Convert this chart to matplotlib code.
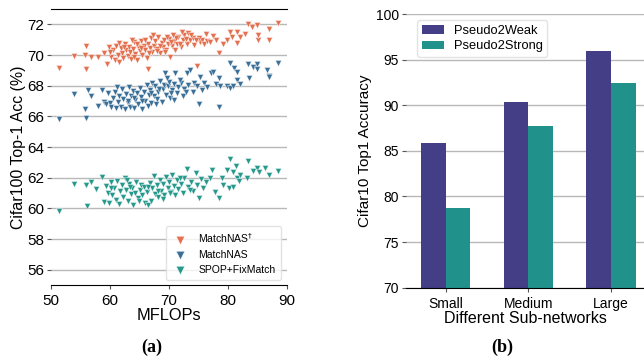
import matplotlib
matplotlib.use("Agg")
import matplotlib.pyplot as plt
import numpy as np

plt.rcParams['font.family'] = ['Liberation Sans', 'DejaVu Sans']

# ---------------- data (a) ----------------
matchnas_dag_x = [51.3, 53.9, 55.8, 55.9, 56.0, 56.8, 57.9, 59.0, 59.5, 59.8, 60.2, 60.5, 60.8, 61.0, 61.3,
                  61.5, 61.8, 62.0, 62.2, 62.5, 62.7, 63.0, 63.2, 63.4, 63.6, 63.9, 64.1, 64.3, 64.5, 64.8,
                  65.0, 65.2, 65.5, 65.7, 66.0, 66.2, 66.4, 66.5, 66.8, 67.0, 67.2, 67.5, 67.7, 68.0, 68.2,
                  68.5, 68.8, 69.0, 69.2, 69.5, 69.8, 70.0, 70.2, 70.5, 70.8, 71.0, 71.3, 71.6, 72.0, 72.3,
                  72.6, 73.0, 73.3, 73.6, 74.0, 74.3, 74.8, 75.2, 75.6, 76.0, 76.5, 77.0, 77.5, 78.0, 78.5,
                  79.1, 79.9, 80.3, 80.6, 81.5, 81.6, 82.0, 82.9, 83.4, 84.0, 84.9, 85.0, 85.1, 86.9, 87.0,
                  88.4, 62.3, 63.8, 64.6, 65.3, 66.6, 67.3, 68.4, 69.3, 69.7, 70.4, 71.1, 71.8, 72.8, 73.8,
                  75.0, 76.2, 60.0, 61.6, 64.0, 65.9, 67.9, 70.6, 72.2, 74.5]
matchnas_dag_y = [69.15, 69.95, 70.0, 70.6, 69.1, 69.9, 69.9, 70.1, 69.4, 70.55, 69.85, 70.3, 69.7, 70.6, 70.0,
                  69.55, 70.45, 70.15, 69.8, 70.7, 70.35, 69.95, 70.55, 70.2, 69.75, 70.4, 70.85, 70.05, 69.65, 70.5,
                  70.25, 70.9, 70.0, 70.6, 70.35, 69.8, 69.1, 70.75, 70.45, 71.1, 70.2, 70.6, 70.9, 70.4, 71.15,
                  70.15, 70.8, 70.55, 71.0, 70.35, 70.7, 71.05, 69.85, 70.6, 70.9, 70.3, 70.75, 71.2, 70.5, 70.95,
                  71.3, 70.7, 71.45, 70.95, 71.1, 70.65, 69.3, 70.85, 71.0, 70.75, 70.9, 70.85, 71.25, 71.0, 70.1,
                  70.75, 71.0, 71.5, 71.2, 71.5, 70.8, 71.2, 71.4, 72.0, 71.8, 71.95, 71.0, 71.3, 71.7, 71.0,
                  72.1, 70.5, 70.95, 70.7, 70.45, 70.1, 71.3, 70.6, 70.2, 71.2, 70.85, 71.1, 70.7, 71.05, 71.3,
                  71.1, 71.4, 70.2, 70.8, 69.9, 71.0, 70.25, 71.3, 71.5, 71.0]

matchnas_x = [51.3, 53.9, 55.8, 56.0, 56.2, 56.8, 57.9, 58.6, 59.0, 59.3, 59.6, 60.0, 60.2, 60.5, 60.8,
              61.0, 61.3, 61.5, 61.8, 62.0, 62.2, 62.5, 62.7, 63.0, 63.2, 63.4, 63.6, 63.9, 64.1, 64.3,
              64.5, 64.8, 65.0, 65.2, 65.5, 65.7, 66.0, 66.2, 66.4, 66.6, 66.8, 67.0, 67.2, 67.5, 67.7,
              68.0, 68.2, 68.5, 68.8, 69.0, 69.2, 69.3, 69.5, 69.8, 70.0, 70.2, 70.5, 70.8, 71.0, 71.3,
              71.6, 72.0, 72.3, 72.6, 73.0, 73.3, 73.6, 74.0, 74.3, 74.8, 75.0, 75.2, 75.6, 76.0, 76.5,
              77.1, 77.5, 78.0, 78.4, 78.5, 78.6, 79.8, 80.3, 80.4, 80.9, 81.0, 81.5, 81.5, 82.1, 83.4,
              83.6, 84.3, 84.9, 84.9, 86.6, 87.0, 87.0, 88.4, 64.0, 65.4, 66.9, 68.3, 69.6, 70.4, 71.8,
              72.9, 61.2, 63.0, 67.8, 70.9]
matchnas_y = [65.85, 67.45, 66.5, 65.9, 67.75, 67.3, 66.7, 67.75, 66.95, 66.8, 67.5, 66.9, 66.6, 67.2, 67.6,
              66.55, 66.95, 67.35, 66.6, 67.8, 67.1, 66.5, 67.45, 66.85, 67.9, 66.6, 67.3, 67.65, 66.55, 67.05,
              67.5, 66.8, 67.85, 67.25, 66.5, 67.6, 67.0, 68.05, 66.65, 67.4, 67.75, 66.9, 68.2, 67.3, 67.95,
              67.1, 67.6, 68.3, 66.95, 67.8, 68.05, 68.8, 67.4, 67.95, 68.25, 67.2, 67.7, 68.1, 68.8, 67.5,
              67.9, 68.2, 67.35, 67.8, 68.8, 68.05, 69.0, 67.6, 68.15, 67.95, 66.8, 68.55, 67.7, 68.2, 67.9,
              68.8, 68.9, 68.1, 68.5, 66.6, 68.0, 68.0, 69.5, 67.85, 68.0, 69.15, 68.9, 68.4, 68.1, 69.4,
              68.5, 69.25, 69.4, 69.1, 69.0, 68.65, 68.55, 69.5, 67.2, 67.0, 67.55, 67.8, 68.5, 67.55, 68.4,
              67.6, 67.9, 67.0, 66.8, 67.05]

spop_x = [51.3, 53.9, 55.9, 56.1, 56.7, 57.7, 58.6, 59.0, 59.3, 59.6, 59.9, 60.1, 60.4, 60.7, 61.0,
          61.2, 61.5, 61.7, 62.0, 62.2, 62.5, 62.7, 63.0, 63.2, 63.5, 63.7, 63.9, 64.2, 64.4, 64.7,
          65.0, 65.2, 65.5, 65.8, 66.0, 66.2, 66.5, 66.7, 66.9, 67.2, 67.4, 67.6, 67.9, 68.1, 68.4,
          68.7, 69.0, 69.2, 69.5, 69.8, 70.0, 70.3, 70.5, 70.8, 71.0, 71.3, 71.6, 72.0, 72.3, 72.6,
          73.0, 73.3, 73.7, 74.1, 74.5, 74.8, 75.0, 75.4, 75.8, 76.3, 77.0, 77.2, 77.8, 78.4, 78.9,
          79.2, 79.8, 80.2, 80.3, 80.9, 80.9, 81.3, 81.5, 81.9, 82.0, 83.3, 83.4, 84.3, 84.9, 85.3,
          86.3, 87.0, 88.5, 60.2, 62.9, 64.9, 66.4, 68.2, 70.1, 71.9, 73.5, 63.4, 68.9]
spop_y = [59.8, 61.6, 61.55, 60.15, 61.7, 61.25, 62.05, 60.4, 61.45, 61.0, 60.35, 61.7, 60.9, 61.3, 60.55,
          61.8, 60.3, 61.1, 61.5, 60.75, 61.95, 61.2, 60.5, 61.6, 60.95, 61.35, 60.25, 61.0, 61.75, 60.7,
          61.2, 61.55, 60.85, 61.4, 60.35, 61.05, 60.2, 61.65, 60.5, 61.3, 62.1, 60.95, 61.5, 60.75, 61.85,
          61.15, 61.6, 60.9, 62.05, 61.3, 61.7, 61.05, 62.15, 61.45, 60.85, 61.85, 61.25, 61.6, 61.0, 62.0,
          62.55, 61.4, 61.75, 61.15, 62.3, 61.55, 60.7, 61.9, 61.35, 61.7, 62.0, 62.5, 61.05, 60.7, 62.0,
          61.5, 62.5, 61.3, 63.2, 61.4, 62.4, 62.75, 61.95, 61.8, 62.2, 61.95, 63.1, 62.45, 62.65, 62.4,
          62.6, 62.15, 62.45, 61.3, 61.85, 60.5, 61.4, 61.15, 61.0, 61.95, 61.2, 61.4, 60.6]

series_labels = ["MatchNAS$^{\\dagger}$", "MatchNAS", "SPOP+FixMatch"]
series_colors = ["#e3714f", "#3a6f98", "#27998c"]

# ---------------- data (b) ----------------
subnets = ["Small", "Medium", "Large"]
pseudo2weak = [85.9, 90.4, 95.9]
pseudo2strong = [78.7, 87.7, 92.4]

fig = plt.figure(figsize=(6.44, 3.6), dpi=100)

# ---------- panel (a) ----------
ax1 = fig.add_axes([0.0792, 0.2083, 0.3665, 0.7667])
ax1.set_axisbelow(True)
ax1.yaxis.grid(True, color="#b8b8b8", linewidth=1.0)
for xs, ys, lab, col in zip([matchnas_dag_x, matchnas_x, spop_x],
                            [matchnas_dag_y, matchnas_y, spop_y],
                            series_labels, series_colors):
    ax1.scatter(xs, ys, marker="v", s=19, color=col, edgecolor="white", linewidth=0.3, label=lab)
ax1.set_xlim(50, 90)
ax1.set_ylim(55, 73)
ax1.set_yticks([56, 58, 60, 62, 64, 66, 68, 70, 72])
ax1.set_xticks([50, 60, 70, 80, 90])
for s in ["left", "right"]:
    ax1.spines[s].set_visible(False)
ax1.spines["top"].set_color("black")
ax1.spines["bottom"].set_color("black")
ax1.tick_params(axis="both", labelsize=11, length=3, color="#555555", pad=2)
ax1.tick_params(axis="x", pad=3.5)
ax1.set_xlabel("MFLOPs", fontsize=11.8, labelpad=0)
ax1.set_ylabel("Cifar100 Top-1 Acc (%)", fontsize=11.4, labelpad=1)
leg1 = ax1.legend(loc="lower right", fontsize=7.5, markerscale=1.4, frameon=True,
                  borderpad=0.5, labelspacing=0.45, handletextpad=1.0, handlelength=1.6,
                  bbox_to_anchor=(0.995, 0.0))
leg1.get_frame().set_edgecolor("#dddddd")

# ---------- panel (b) ----------
ax2 = fig.add_axes([0.6304, 0.2008, 0.3696, 0.7603])
ax2.set_axisbelow(True)
ax2.yaxis.grid(True, color="#b8b8b8", linewidth=1.0)
pos = np.arange(len(subnets))
w = 0.3
ax2.bar(pos - w / 2, pseudo2weak, width=w, color="#433e85", label="Pseudo2Weak")
ax2.bar(pos + w / 2, pseudo2strong, width=w, color="#21918c", label="Pseudo2Strong")
ax2.set_xticks(pos)
ax2.set_xticklabels(subnets)
ax2.set_xlim(-0.48, 2.4)
ax2.set_ylim(70, 100)
ax2.set_yticks([70, 75, 80, 85, 90, 95, 100])
for s in ["left", "right", "top"]:
    ax2.spines[s].set_visible(False)
ax2.spines["bottom"].set_color("black")
ax2.tick_params(axis="both", labelsize=10, length=3, color="#555555", pad=2)
ax2.tick_params(axis="x", pad=3.5)
ax2.set_xlabel("Different Sub-networks", fontsize=11.5, labelpad=0)
ax2.set_ylabel("Cifar10 Top1 Accuracy", fontsize=11, labelpad=3)
leg2 = ax2.legend(loc="upper left", fontsize=9.3, frameon=True, borderpad=0.35,
                  labelspacing=0.25, handlelength=1.7, handleheight=0.6, handletextpad=0.8,
                  bbox_to_anchor=(0.02, 1.0))
leg2.get_frame().set_edgecolor("#dddddd")

fig.text(0.235, 0.036, "(a)", fontsize=13, fontweight="bold", family="Liberation Serif",
         ha="center", va="center")
fig.text(0.78, 0.036, "(b)", fontsize=13, fontweight="bold", family="Liberation Serif",
         ha="center", va="center")

fig.savefig("out.png", dpi=100)
